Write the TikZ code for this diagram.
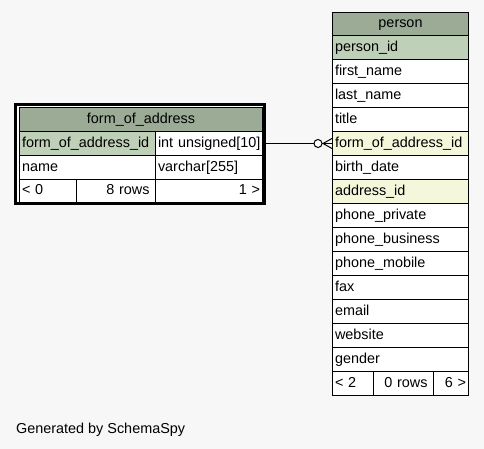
\documentclass[tikz,border=0pt]{standalone}
\usepackage{fontspec}
\setmainfont{Liberation Sans}
\usepackage{tikz}
\usetikzlibrary{calc}
\definecolor{pagebg}{HTML}{F7F7F7}
\definecolor{headcol}{HTML}{9BAB96}
\definecolor{pkcol}{HTML}{BED1B8}
\definecolor{fkcol}{HTML}{F4F7DA}
\newcommand{\tabfont}{\fontsize{14.4}{17}\selectfont}
\tikzset{
  tcell/.style={draw, fill=white, line width=1pt, anchor=north west,
    inner xsep=2.5pt, inner ysep=0pt, minimum height=24pt,
    text height=10.5pt, text depth=3pt, font=\tabfont},
  thead/.style={tcell, fill=headcol, align=center},
  lcell/.style={tcell, align=left},
  rcell/.style={tcell, align=right},
  edge/.style={line width=1pt, black}
}

\begin{document}
\begin{tikzpicture}[x=1pt, y=-1pt]
    \fill[pagebg] (0,0) rectangle (484,449);

    % form_of_address
    \draw[line width=3pt, fill=white] (15.5,104.5) rectangle (264.5,203.5);
    \node[thead, text width=238pt] (foa) at (19,107) {form\_of\_address};
    \node[lcell, fill=pkcol, text width=131pt] (foaid) at (19,131) {form\_of\_address\_id};
    \node[lcell, text width=102pt] (foaidt) at (155,131) {\mbox{int unsigned[10]}};
    \node[lcell, text width=131pt] (foaname) at (19,155) {name};
    \node[lcell, text width=102pt] (foanamet) at (155,155) {varchar[255]};
    \node[lcell, text width=52pt, minimum height=23pt] (foap) at (19,179) {< 0};
    \node[rcell, text width=67pt, inner xsep=6pt, minimum height=23pt] (foar) at (76,179) {8 rows};
    \node[rcell, text width=102pt, minimum height=23pt] (foac) at (155,179) {1 >};

    % person
    \node[thead, text width=131pt, minimum height=23pt] (person) at (332,12) {person};
    \foreach \col/\clr [count=\i] in {person\_id/pkcol, first\_name/white,
        last\_name/white, title/white, form\_of\_address\_id/fkcol,
        birth\_date/white, address\_id/fkcol, phone\_private/white,
        phone\_business/white, phone\_mobile/white, fax/white,
        email/white, website/white, gender/white}
      \node[lcell, fill=\clr, text width=131pt] (p\i) at (332,{11+24*\i}) {\col};
    \node[lcell, text width=36pt] (pp) at (332,371) {< 2};
    \node[rcell, text width=48pt, inner xsep=6pt] (pr) at (373,371) {0 rows};
    \node[rcell, text width=30pt] (pc) at (433,371) {6 >};

    % relationship
    \draw[edge] (foaidt.east) -- (p5.west);
    \draw[edge, fill=white] ($(p5.west)+(-14,0)$) circle (4pt);
    \draw[edge] ($(p5.west)+(-9,0)$) -- ($(p5.west)+(0,-5)$)
                ($(p5.west)+(-9,0)$) -- ($(p5.west)+(0,5)$);

    \node[anchor=base west, inner sep=0pt, font=\tabfont] (credit) at (16,433) {Generated by SchemaSpy};
\end{tikzpicture}
\end{document}
